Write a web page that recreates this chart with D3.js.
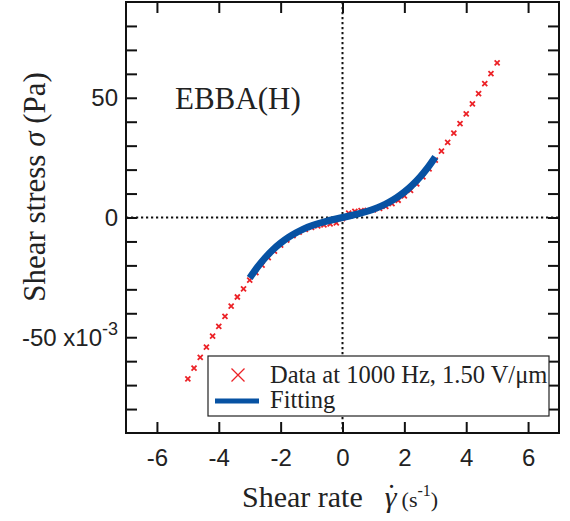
<!DOCTYPE html>
<html>
<head>
<meta charset="utf-8">
<script src="https://cdn.jsdelivr.net/npm/d3@7"></script>
<style>
  body { margin: 0; background: #fff; }
  svg { display: block; }
  .serif { font-family: "Liberation Serif", "Times New Roman", serif; }
  .sans { font-family: "Liberation Sans", Arial, sans-serif; }
</style>
</head>
<body>
<div id="chart"></div>
<script>
// measured data (shear rate in 1/s, stress in 1e-3 Pa)
const dataRate = [-5.0, -4.8, -4.6, -4.4, -4.2, -4.0, -3.8, -3.6, -3.4, -3.2,
  -3.0, -2.8, -2.6, -2.4, -2.2, -2.0, -1.8, -1.6, -1.4, -1.2,
  -1.0, -0.8, -0.6, -0.4, -0.2, 0.0, 0.2, 0.4, 0.6, 0.8,
  1.0, 1.2, 1.4, 1.6, 1.8, 2.0, 2.2, 2.4, 2.6, 2.8,
  3.0, 3.2, 3.4, 3.6, 3.8, 4.0, 4.2, 4.4, 4.6, 4.8, 5.0];
const dataStress = [-67.4, -62.9, -58.4, -54.1, -49.5, -45.5, -41.3, -37.0, -33.2, -29.8,
  -26.2, -23.0, -19.9, -16.8, -14.0, -11.5, -9.4, -7.6, -6.1, -5.0,
  -4.1, -3.5, -3.1, -2.7, -2.2, -0.5, 1.8, 2.6, 2.9, 3.0,
  3.2, 3.8, 4.6, 5.8, 7.2, 9.0, 11.3, 14.0, 17.0, 20.3,
  24.0, 27.7, 31.4, 35.2, 39.2, 43.3, 47.5, 51.7, 55.9, 60.1, 64.6];

// fitted curve
const fitRate = [-3.0, -2.75, -2.5, -2.25, -2.0, -1.75, -1.5, -1.25, -1.0, -0.75, -0.5, -0.25,
  0.0, 0.25, 0.5, 0.75, 1.0, 1.25, 1.5, 1.75, 2.0, 2.25, 2.5, 2.75, 3.0];
const fitStress = [-25.29, -20.73, -16.81, -13.47, -10.66, -8.31, -6.37, -4.77, -3.47, -2.40, -1.50, -0.72,
  0.0, 0.72, 1.50, 2.40, 3.47, 4.77, 6.37, 8.31, 10.66, 13.47, 16.81, 20.73, 25.29];

const xTicks = [-6, -4, -2, 0, 2, 4, 6];
const yTicks = [-80, -70, -60, -50, -40, -30, -20, -10, 0, 10, 20, 30, 40, 50, 60, 70, 80];
const yLabels = [-50, 0, 50];

const W = 570, H = 521;
const margin = { top: 2, right: 11, bottom: 88, left: 126 };
const width = W - margin.left - margin.right;
const height = H - margin.top - margin.bottom;

const red = '#ec2227', blue = '#0752a3';

const svg = d3.select('#chart').append('svg')
  .attr('width', W)
  .attr('height', H);

const x = d3.scaleLinear().domain([-7, 7]).range([0, width]);
const y = d3.scaleLinear().domain([-90, 90]).range([height, 0]);

const g = svg.append('g')
  .attr('transform', `translate(${margin.left}, ${margin.top})`);

// zero lines
g.append('line')
  .attr('x1', x(0)).attr('x2', x(0)).attr('y1', 0).attr('y2', height)
  .attr('stroke', '#111').attr('stroke-width', 2).attr('stroke-dasharray', '2.2,2.8');
g.append('line')
  .attr('x1', 0).attr('x2', width).attr('y1', y(0)).attr('y2', y(0))
  .attr('stroke', '#111').attr('stroke-width', 2).attr('stroke-dasharray', '2.2,2.8');

// axes: inward ticks on all four sides, no domain path
const tickLen = 11;
const axes = [
  g.append('g').attr('transform', `translate(0, ${height})`)
    .call(d3.axisBottom(x).tickValues(xTicks).tickSizeInner(-tickLen).tickSizeOuter(0).tickFormat(d => String(d)).tickPadding(16)),
  g.append('g')
    .call(d3.axisTop(x).tickValues(xTicks).tickSizeInner(-tickLen).tickSizeOuter(0).tickFormat('')),
  g.append('g')
    .call(d3.axisLeft(y).tickValues(yTicks).tickSizeInner(-tickLen).tickSizeOuter(0).tickFormat('')),
  g.append('g').attr('transform', `translate(${width}, 0)`)
    .call(d3.axisRight(y).tickValues(yTicks).tickSizeInner(-tickLen).tickSizeOuter(0).tickFormat(''))
];
axes.forEach(a => {
  a.select('.domain').remove();
  a.selectAll('.tick line').attr('stroke', '#111').attr('stroke-width', 2);
});
axes[0].selectAll('.tick text')
  .attr('class', 'sans')
  .style('font-size', '24px')
  .attr('fill', '#222');

// y labels
const yl = g.append('g').attr('class', 'sans').style('font-size', '24px').attr('fill', '#222');
yLabels.forEach(v => {
  const t = yl.append('text')
    .attr('x', -8)
    .attr('y', y(v) + 8.5)
    .attr('text-anchor', 'end');
  if (v === -50) {
    t.append('tspan').text('-50 x10');
    t.append('tspan').attr('dy', -11).style('font-size', '18px').text('-3');
  } else {
    t.text(v);
  }
});

// fitted curve
const line = d3.line()
  .x((d, i) => x(fitRate[i]))
  .y((d, i) => y(fitStress[i]))
  .curve(d3.curveCatmullRom);

// data markers
const sym = d3.symbol().type(d3.symbolX).size(18);
g.append('g').selectAll('path')
  .data(dataRate)
  .join('path')
  .attr('transform', (d, i) => `translate(${x(d)}, ${y(dataStress[i])})`)
  .attr('d', sym)
  .attr('fill', 'none')
  .attr('stroke', red)
  .attr('stroke-width', 1.8);

g.append('path')
  .datum(fitRate)
  .attr('d', line)
  .attr('fill', 'none')
  .attr('stroke', blue)
  .attr('stroke-width', 7);

// frame
g.append('rect')
  .attr('width', width).attr('height', height)
  .attr('fill', 'none').attr('stroke', '#111').attr('stroke-width', 2);

// sample label
g.append('text')
  .attr('class', 'serif')
  .attr('x', 49).attr('y', 107)
  .style('font-size', '31px')
  .attr('fill', '#222')
  .text('EBBA(H)');

// legend
const lg = g.append('g').attr('transform', `translate(${82}, ${354})`);
lg.append('rect')
  .attr('width', 341).attr('height', 60)
  .attr('fill', '#fff').attr('stroke', '#222').attr('stroke-width', 1.2);
lg.append('path')
  .attr('transform', 'translate(30, 19)')
  .attr('d', d3.symbol().type(d3.symbolX).size(112))
  .attr('fill', 'none').attr('stroke', red).attr('stroke-width', 1.3);
lg.append('line')
  .attr('x1', 7).attr('x2', 51).attr('y1', 45).attr('y2', 45)
  .attr('stroke', blue).attr('stroke-width', 5);
lg.append('text').attr('class', 'serif').attr('x', 62).attr('y', 27)
  .style('font-size', '24.5px').attr('fill', '#222')
  .text('Data at 1000 Hz, 1.50 V/μm');
lg.append('text').attr('class', 'serif').attr('x', 62).attr('y', 52)
  .style('font-size', '24.5px').attr('fill', '#222')
  .text('Fitting');

// axis titles
const xt = svg.append('text')
  .attr('class', 'serif')
  .attr('x', 242).attr('y', 507)
  .style('font-family', '"Liberation Serif", "Times New Roman", serif')
  .style('font-size', '30px')
  .attr('fill', '#222');
xt.append('tspan').text('Shear rate');
xt.append('tspan').attr('dx', 22).style('font-style', 'italic').text('γ');
xt.append('tspan').attr('dx', -10).attr('dy', -2).text('˙');
xt.append('tspan').attr('dx', 5).attr('dy', 2).style('font-size', '22px').text('(s');
xt.append('tspan').style('font-size', '16px').attr('dy', -11).text('-1');
xt.append('tspan').style('font-size', '22px').attr('dy', 11).text(')');

const ytl = svg.append('text')
  .attr('class', 'serif')
  .attr('transform', 'translate(45, 187) rotate(-90)')
  .attr('text-anchor', 'middle')
  .style('font-family', '"Liberation Serif", "Times New Roman", serif')
  .style('font-size', '31px')
  .attr('fill', '#222');
ytl.append('tspan').text('Shear stress ');
ytl.append('tspan').style('font-style', 'italic').text('σ');
ytl.append('tspan').text(' (Pa)');
</script>
</body>
</html>
